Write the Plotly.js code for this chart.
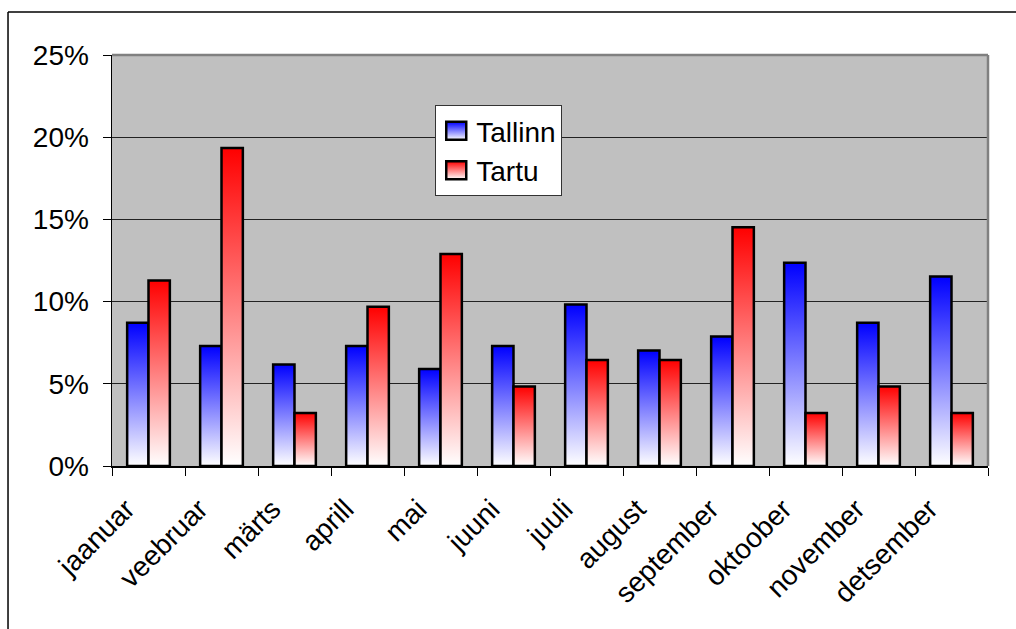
<!DOCTYPE html>
<html>
<head>
<meta charset="utf-8">
<script src="https://cdn.plot.ly/plotly-3.0.1.min.js"></script>
<style>
  html, body { margin: 0; padding: 0; background: #fff; }
  #chart { width: 1016px; height: 629px; }
</style>
</head>
<body>
<div id="chart"></div>
<script>
// ---- data ----
const months = ['jaanuar','veebruar','märts','aprill','mai','juuni','juuli','august','september','oktoober','november','detsember'];
const tallinn = [8.71, 7.30, 6.18, 7.30, 5.90, 7.30, 9.83, 7.02, 7.87, 12.36, 8.71, 11.52];
const tartu   = [11.29, 19.35, 3.23, 9.68, 12.90, 4.84, 6.45, 6.45, 14.52, 3.23, 4.84, 3.23];
const yTickVals = [0, 5, 10, 15, 20, 25];
const yTickText = ['0%', '5%', '10%', '15%', '20%', '25%'];

const FONT = 'Liberation Sans, Arial, sans-serif';

const traces = [
  {
    type: 'bar', name: 'Tallinn', x: months, y: tallinn,
    legendgroup: 'a',
    marker: { color: '#4040ff', line: { color: '#000000', width: 2.5 } },
    hoverinfo: 'none'
  },
  {
    type: 'bar', name: 'Tartu', x: months, y: tartu,
    legendgroup: 'b',
    marker: { color: '#ff4040', line: { color: '#000000', width: 2.5 } },
    hoverinfo: 'none'
  }
];

const layout = {
  width: 1016, height: 629,
  margin: { l: 112, r: 28, t: 55, b: 163 },
  paper_bgcolor: '#ffffff',
  plot_bgcolor: '#c0c0c0',
  font: { family: FONT, size: 28, color: '#000000' },
  barmode: 'group',
  bargap: 0.415,
  bargroupgap: 0,
  showlegend: true,
  legend: {
    x: 0.369, y: 0.878, xanchor: 'left', yanchor: 'top',
    bgcolor: '#ffffff', bordercolor: '#333333', borderwidth: 1,
    font: { family: FONT, size: 28, color: '#000000' },
    traceorder: 'grouped', tracegroupgap: 0
  },
  xaxis: {
    type: 'category',
    tickangle: -45,
    tickson: 'boundaries',
    ticks: 'outside', ticklen: 8, tickwidth: 1, tickcolor: '#000000',
    ticklabelshift: -22, ticklabelstandoff: 14,
    showline: true, linecolor: '#000000', linewidth: 1.5,
    showgrid: false, zeroline: false,
    tickfont: { family: FONT, size: 28, color: '#000000' }
  },
  yaxis: {
    range: [0, 25],
    tickvals: yTickVals, ticktext: yTickText,
    ticks: 'outside', ticklen: 8, tickwidth: 1, tickcolor: '#000000',
    ticklabelstandoff: 8,
    showline: true, linecolor: '#000000', linewidth: 1.5,
    showgrid: true, gridcolor: '#222222', gridwidth: 1,
    zeroline: false,
    tickfont: { family: FONT, size: 28, color: '#000000' }
  },
  shapes: [
    // plot area frame (top and right, gray)
    { type: 'line', xref: 'paper', yref: 'paper', x0: 0, x1: 1, y0: 1, y1: 1,
      line: { color: '#808080', width: 2.5 } },
    { type: 'line', xref: 'paper', yref: 'paper', x0: 1, x1: 1, y0: 0, y1: 1,
      line: { color: '#808080', width: 2.5 } },
    // outer chart border (top and left)
    { type: 'line', xref: 'paper', yref: 'paper', x0: -0.1187, x1: 1.05, y0: 1.1046, y1: 1.1046,
      line: { color: '#000000', width: 1.5 } },
    { type: 'line', xref: 'paper', yref: 'paper', x0: -0.1187, x1: -0.1187, y0: -0.40, y1: 1.1046,
      line: { color: '#000000', width: 1.5 } }
  ]
};

function addGradients(gd) {
  const svg = gd.querySelector('svg.main-svg');
  if (!svg) return;
  const NS = 'http://www.w3.org/2000/svg';
  let defs = svg.querySelector('defs');
  if (!defs) { defs = document.createElementNS(NS, 'defs'); svg.insertBefore(defs, svg.firstChild); }
  const grads = [['gradBlue', '#0000ff'], ['gradRed', '#ff0000']];
  grads.forEach(([id, col]) => {
    if (svg.querySelector('#' + id)) return;
    const g = document.createElementNS(NS, 'linearGradient');
    g.setAttribute('id', id);
    g.setAttribute('x1', '0'); g.setAttribute('y1', '0');
    g.setAttribute('x2', '0'); g.setAttribute('y2', '1');
    const s1 = document.createElementNS(NS, 'stop');
    s1.setAttribute('offset', '0'); s1.setAttribute('stop-color', col);
    const s2 = document.createElementNS(NS, 'stop');
    s2.setAttribute('offset', '1'); s2.setAttribute('stop-color', '#ffffff');
    g.appendChild(s1); g.appendChild(s2);
    defs.appendChild(g);
  });
  const ids = ['gradBlue', 'gradRed'];
  gd.querySelectorAll('.barlayer .trace.bars').forEach((tr, i) => {
    tr.querySelectorAll('.point path').forEach(p => { p.style.fill = 'url(#' + ids[i] + ')'; });
  });
  gd.querySelectorAll('.legend .traces').forEach((tr, i) => {
    tr.querySelectorAll('.legendpoints path').forEach(p => {
      p.style.fill = 'url(#' + ids[i] + ')';
      p.setAttribute('d', 'M10,9H-10V-9H10Z');
      p.style.strokeWidth = '2.5px';
    });
  });
}

const gd = document.getElementById('chart');
Plotly.newPlot(gd, traces, layout, { displayModeBar: false, staticPlot: true }).then(() => {
  addGradients(gd);
  gd.on('plotly_afterplot', () => addGradients(gd));
});
</script>
</body>
</html>
